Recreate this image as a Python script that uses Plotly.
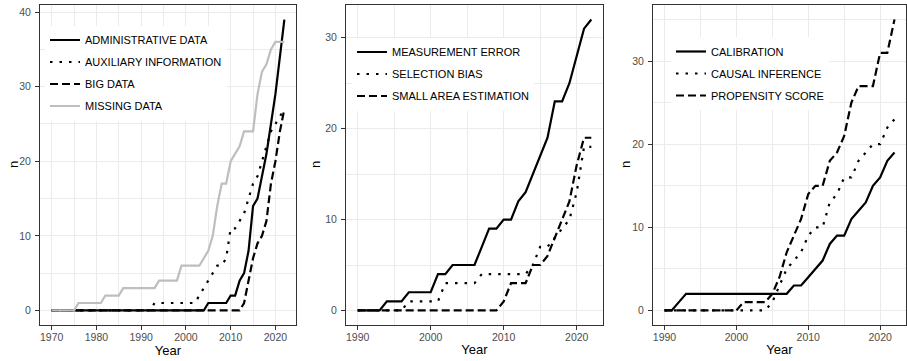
import plotly.graph_objects as go

# ---------------- data ----------------
years_p1 = list(range(1970, 2023))
years_p23 = list(range(1990, 2023))

administrative_data = [0, 0, 0, 0, 0, 0, 0, 0, 0, 0,
                       0, 0, 0, 0, 0, 0, 0, 0, 0, 0,
                       0, 0, 0, 0, 0, 0, 0, 0, 0, 0,
                       0, 0, 0, 0, 0, 1, 1, 1, 1, 1,
                       2, 2, 4, 5, 8, 14, 15, 18, 21, 25,
                       29, 34, 39]
auxiliary_information = [0, 0, 0, 0, 0, 0, 0, 0, 0, 0,
                         0, 0, 0, 0, 0, 0, 0, 0, 0, 0,
                         0, 0, 0, 1, 1, 1, 1, 1, 1, 1,
                         1, 1, 1, 2, 3, 4, 5, 6, 6, 7,
                         11, 11, 12, 13, 15, 17, 18, 20, 22, 24,
                         25, 26, 27]
big_data = [0, 0, 0, 0, 0, 0, 0, 0, 0, 0,
            0, 0, 0, 0, 0, 0, 0, 0, 0, 0,
            0, 0, 0, 0, 0, 0, 0, 0, 0, 0,
            0, 0, 0, 0, 0, 0, 0, 0, 0, 0,
            0, 0, 0, 1, 4, 7, 9, 10, 12, 17,
            20, 24, 27]
missing_data = [0, 0, 0, 0, 0, 0, 1, 1, 1, 1,
                1, 1, 2, 2, 2, 2, 3, 3, 3, 3,
                3, 3, 3, 3, 4, 4, 4, 4, 4, 6,
                6, 6, 6, 6, 7, 8, 10, 14, 17, 17,
                20, 21, 22, 24, 24, 24, 29, 32, 33, 35,
                36, 36, 36]

measurement_error = [0, 0, 0, 0, 1, 1, 1, 2, 2, 2,
                     2, 4, 4, 5, 5, 5, 5, 7, 9, 9,
                     10, 10, 12, 13, 15, 17, 19, 23, 23, 25,
                     28, 31, 32]
selection_bias = [0, 0, 0, 0, 0, 0, 0, 1, 1, 1,
                  1, 1, 3, 3, 3, 3, 3, 4, 4, 4,
                  4, 4, 4, 4, 5, 7, 7, 8, 9, 10,
                  13, 18, 18]
small_area_estimation = [0, 0, 0, 0, 0, 0, 0, 0, 0, 0,
                         0, 0, 0, 0, 0, 0, 0, 0, 0, 0,
                         1, 3, 3, 3, 5, 5, 6, 8, 10, 12,
                         16, 19, 19]

calibration = [0, 0, 1, 2, 2, 2, 2, 2, 2, 2,
               2, 2, 2, 2, 2, 2, 2, 2, 3, 3,
               4, 5, 6, 8, 9, 9, 11, 12, 13, 15,
               16, 18, 19]
causal_inference = [0, 0, 0, 0, 0, 0, 0, 0, 0, 0,
                    0, 0, 0, 0, 0, 1, 3, 5, 6, 7,
                    9, 10, 10, 13, 14, 16, 16, 18, 19, 20,
                    20, 22, 23]
propensity_score = [0, 0, 0, 0, 0, 0, 0, 0, 0, 0,
                    0, 1, 1, 1, 1, 2, 4, 7, 9, 11,
                    14, 15, 15, 18, 19, 21, 25, 27, 27, 27,
                    31, 31, 35]

y_title = "n"
x_title = "Year"

# ---------------- styles ----------------
FONT = "Liberation Sans, Arial, Helvetica, sans-serif"
SOLID = "solid"
DOTTED = "2.5px,7px"
DASHED = "8px,4px"
LW = 2.2

panels = [
    ("x", "y", "legend", years_p1, [
        ("ADMINISTRATIVE DATA", administrative_data, SOLID, "black"),
        ("AUXILIARY INFORMATION", auxiliary_information, DOTTED, "black"),
        ("BIG DATA", big_data, DASHED, "black"),
        ("MISSING DATA", missing_data, SOLID, "#BEBEBE"),
    ]),
    ("x2", "y2", "legend2", years_p23, [
        ("MEASUREMENT ERROR", measurement_error, SOLID, "black"),
        ("SELECTION BIAS", selection_bias, DOTTED, "black"),
        ("SMALL AREA ESTIMATION", small_area_estimation, DASHED, "black"),
    ]),
    ("x3", "y3", "legend3", years_p23, [
        ("CALIBRATION", calibration, SOLID, "black"),
        ("CAUSAL INFERENCE", causal_inference, DOTTED, "black"),
        ("PROPENSITY SCORE", propensity_score, DASHED, "black"),
    ]),
]

fig = go.Figure()
for xa, ya, leg, yrs, series in panels:
    for name, vals, dash, color in series:
        fig.add_trace(go.Scatter(
            x=yrs, y=vals, mode="lines", name=name,
            line=dict(color=color, width=LW, dash=dash),
            xaxis=xa, yaxis=ya, legend=leg, legendgroup=name,
        ))

W, H = 907, 361
ydom = [36 / H, 356 / H]
xdoms = [[40 / W, 296 / W], [346 / W, 603 / W], [653 / W, 906 / W]]
xranges = [[1967.4, 2024.6], [1988.4, 2023.6], [1988.4, 2023.6]]
yranges = [[-1.95, 40.95], [-1.6, 33.6], [-1.75, 36.75]]
xtick0 = [1970, 1990, 1990]
ytitle_x = [13, 315, 625]

common = dict(
    showline=True, linecolor="#333333", linewidth=1, mirror=True,
    ticks="outside", ticklen=4, tickwidth=1, tickcolor="#333333",
    tickfont=dict(family=FONT, size=10.5, color="#4D4D4D"),
    showgrid=True, gridcolor="#EBEBEB", gridwidth=1, zeroline=False,
)

layout = dict(
    width=W, height=H, margin=dict(l=0, r=0, t=0, b=0),
    paper_bgcolor="white", plot_bgcolor="white",
    font=dict(family=FONT, color="black"),
)
annotations = []
for i in range(3):
    sx = "" if i == 0 else str(i + 1)
    layout["xaxis" + sx] = dict(
        common, domain=xdoms[i], range=xranges[i], anchor="y" + sx,
        tick0=xtick0[i], dtick=10, ticklabelstandoff=-2,
        minor=dict(showgrid=True, gridcolor="#EBEBEB", gridwidth=0.6, dtick=5, tick0=xtick0[i]),
        title=dict(text=x_title, font=dict(family=FONT, size=13, color="black"), standoff=3),
    )
    layout["yaxis" + sx] = dict(
        common, domain=ydom, range=yranges[i], anchor="x" + sx,
        tick0=0, dtick=10, ticklabelstandoff=2,
        minor=dict(showgrid=True, gridcolor="#EBEBEB", gridwidth=0.6, dtick=5, tick0=0),
    )
    annotations.append(dict(
        text=y_title, textangle=-90, showarrow=False,
        xref="paper", yref="paper", x=ytitle_x[i] / W, y=1 - 165 / H,
        xanchor="center", yanchor="middle",
        font=dict(family=FONT, size=13, color="black"),
    ))
layout["annotations"] = annotations

leg_common = dict(
    bgcolor="white", borderwidth=0, xanchor="left", yanchor="top",
    font=dict(family=FONT, size=11, color="black"), tracegroupgap=3,
)
layout["legend"] = dict(leg_common, x=45 / W, y=1 - 25.5 / H)
layout["legend2"] = dict(leg_common, x=352 / W, y=1 - 37.5 / H)
layout["legend3"] = dict(leg_common, x=671 / W, y=1 - 37 / H)
layout["showlegend"] = True

fig.update_layout(**layout)
fig.write_html(
    "out.html",
    config={"displayModeBar": False},
    post_script="document.body.style.margin='0';document.body.style.padding='0';"
                "document.documentElement.style.overflow='hidden';",
)
